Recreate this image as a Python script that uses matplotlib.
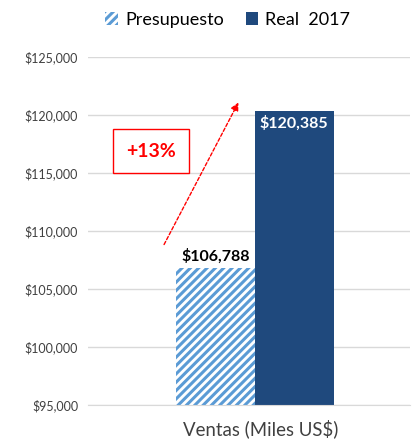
import numpy as np
import matplotlib.pyplot as plt
import matplotlib.ticker as mticker

plt.rcParams['font.family'] = ['Lato', 'DejaVu Sans']
plt.rcParams['hatch.linewidth'] = 2.2

# Datos
categoria = "Ventas (Miles US$)"
series = ["Presupuesto", "Real  2017"]
valores = [106788, 120385]
etiquetas = ["$106,788", "$120,385"]
crecimiento = "+13%"

azul_claro = "#5B9BD5"
azul_oscuro = "#1F497D"

fig = plt.figure(figsize=(4.18, 4.42), dpi=100)
ax = fig.add_axes([0.21, 0.0837, 0.77, 0.7873])

ancho = 0.245
b1 = ax.bar(-ancho / 2, valores[0], width=ancho, bottom=0, color="white",
            edgecolor=azul_claro, hatch="////", linewidth=0, label=series[0])
b2 = ax.bar(ancho / 2, valores[1], width=ancho, color=azul_oscuro,
            linewidth=0, label=series[1])

ax.set_ylim(95000, 125000)
ax.set_xlim(-0.519, 0.481)
ax.yaxis.set_major_locator(mticker.MultipleLocator(5000))
ax.yaxis.set_major_formatter(mticker.StrMethodFormatter("${x:,.0f}"))
ax.tick_params(axis="y", labelsize=9, labelcolor="#404040", length=0, pad=7)
ax.set_xticks([0.019])
ax.set_xticklabels([categoria], fontsize=13.4, color="#404040")
ax.tick_params(axis="x", length=0, pad=10)
ax.grid(axis="y", color="#D9D9D9", linewidth=1)
ax.set_axisbelow(True)
for s in ["top", "right", "left"]:
    ax.spines[s].set_visible(False)
ax.spines["bottom"].set_color("#D9D9D9")

# Etiquetas de valores
ax.text(-ancho / 2, valores[0] + 400, etiquetas[0], ha="center", va="bottom",
        fontsize=11.5, fontweight="bold", color="black")
ax.text(ancho / 2, valores[1] - 400, etiquetas[1], ha="center", va="top",
        fontsize=11.5, fontweight="bold", color="white")

# Flecha y caja de crecimiento
ax.annotate("", xy=(-0.047, 121293), xytext=(-0.286, 108621),
            arrowprops=dict(arrowstyle="-|>", color="red", linestyle=(0, (2.5, 1.5)),
                            linewidth=1, mutation_scale=12))
ax.text(-0.323, 116897, crecimiento, ha="center", va="center", fontsize=14,
        fontweight="bold", color="red",
        bbox=dict(boxstyle="square,pad=0.68", facecolor="white", edgecolor="red", linewidth=1))

fig.legend(handles=[b1, b2], labels=series, loc="upper center", bbox_to_anchor=(0.545, 1.01),
           ncol=2, frameon=False, fontsize=13, handlelength=0.7, handleheight=0.7,
           columnspacing=1.2, handletextpad=0.4)

fig.savefig("out.png", dpi=100)
